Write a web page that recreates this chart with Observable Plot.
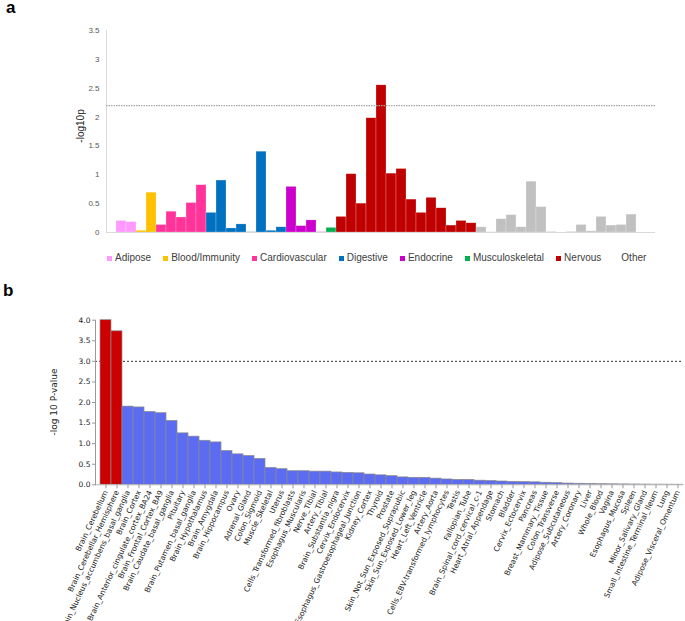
<!DOCTYPE html>
<html><head><meta charset="utf-8">
<script src="https://cdn.jsdelivr.net/npm/d3@7"></script>
<script src="https://cdn.jsdelivr.net/npm/@observablehq/plot@0.6"></script>
<style>
body{margin:0;background:#fff;}
#root{position:relative;width:685px;height:621px;overflow:hidden;font-family:"Liberation Sans",Arial,sans-serif;}
.plot{position:absolute;left:0;}
.panel-label{position:absolute;font-weight:bold;font-size:17px;line-height:14px;color:#000;}
.legend{position:absolute;left:107px;top:251px;display:flex;gap:12px;align-items:center;font-size:10px;line-height:14px;color:#404040;white-space:nowrap;}
.legend span{display:flex;align-items:center;}
.legend i{display:inline-block;width:5px;height:5px;margin-right:3px;}
</style></head>
<body><div id="root"></div>
<script>
// ---------- Panel a data ----------
const aGroups = ["Adipose","Blood/Immunity","Cardiovascular","Digestive","Endocrine","Musculoskeletal","Nervous","Other"];
const aGroupColors = ["#ff99ff","#ffc000","#ff3399","#0070c0","#cc00cc","#00b050","#c00000","#c0c0c0"];
const aGroupSizes = [2,2,5,8,4,1,14,17];
const aValues = [
  0.20,0.18,
  0.03,0.69,
  0.13,0.36,0.26,0.51,0.82,
  0.34,0.90,0.07,0.14,0.005,1.40,0.03,0.09,
  0.79,0.11,0.21,0.005,
  0.08,
  0.27,1.01,0.50,1.98,2.55,1.02,1.10,0.57,0.34,0.60,0.42,0.12,0.20,0.16,
  0.09,0.005,0.23,0.30,0.09,0.88,0.44,0.01,0,0.01,0.13,0.02,0.27,0.12,0.13,0.31,0
];
const aYTicks = [0,0.5,1,1.5,2,2.5,3,3.5];
const aThreshold = 2.2;

// ---------- Panel b data ----------
const bTissues = [
  "Brain_Cerebellum","Brain_Cerebellar_Hemisphere","Brain_Nucleus_accumbens_basal_ganglia","Brain_Cortex",
  "Brain_Anterior_cingulate_cortex_BA24","Brain_Frontal_Cortex_BA9","Brain_Caudate_basal_ganglia","Pituitary",
  "Brain_Putamen_basal_ganglia","Brain_Hypothalamus","Brain_Amygdala","Brain_Hippocampus","Ovary","Adrenal_Gland",
  "Colon_Sigmoid","Muscle_Skeletal","Uterus","Cells_Transformed_fibroblasts","Esophagus_Muscularis","Nerve_Tibial",
  "Artery_Tibial","Brain_Substantia_nigra","Cervix_Endocervix","Esophagus_Gastroesophageal_Junction","Kidney_Cortex",
  "Thyroid","Prostate","Skin_Not_Sun_Exposed_Suprapubic","Skin_Sun_Exposed_Lower_leg","Heart_Left_Ventricle",
  "Artery_Aorta","Cells_EBV-transformed_lymphocytes","Testis","Fallopian_Tube","Brain_Spinal_cord_cervical_c-1",
  "Heart_Atrial_Appendage","Stomach","Bladder","Cervix_Ectocervix","Pancreas","Breast_Mammary_Tissue",
  "Colon_Transverse","Adipose_Subcutaneous","Artery_Coronary","Liver","Whole_Blood","Vagina","Esophagus_Mucosa",
  "Spleen","Minor_Salivary_Gland","Small_Intestine_Terminal_Ileum","Lung","Adipose_Visceral_Omentum"
];
const bValues = [
  4.00,3.73,1.90,1.88,1.77,1.74,1.55,1.25,1.17,1.07,1.03,0.82,0.74,0.70,0.63,0.41,0.38,0.33,0.33,0.32,
  0.32,0.30,0.29,0.28,0.25,0.23,0.21,0.18,0.17,0.17,0.15,0.13,0.12,0.12,0.10,0.09,0.08,0.07,0.065,0.06,
  0.05,0.04,0.03,0.025,0.02,0.015,0.012,0.01,0.008,0.006,0.004,0.003,0.002
];
const bYTicks = [0,0.5,1,1.5,2,2.5,3,3.5,4];
const bThreshold = 3.0;

// ---------- Build tables ----------
const aGroupOfBar = aGroups.flatMap((g, k) => Array(aGroupSizes[k]).fill(g));
const aData = aValues.map((v, i) => ({i, value: v, group: aGroupOfBar[i]}));
const bData = bTissues.map((t, i) => ({tissue: t, value: bValues[i]}));

const root = document.getElementById("root");

// ---------- Panel a ----------
const plotA = Plot.plot({
  width: 685, height: 245,
  marginLeft: 106, marginRight: 30, marginTop: 30, marginBottom: 13,
  x: {type: "band", domain: d3.range(aValues.length), padding: 0, axis: null},
  y: {domain: [0, 3.5], axis: null},
  color: {domain: aGroups, range: aGroupColors},
  style: {fontFamily: "Liberation Sans, Arial, sans-serif", fontSize: "8px", color: "#595959", background: "transparent"},
  marks: [
    Plot.frame({anchor: "left", stroke: "#d9d9d9"}),
    Plot.barY(aData, {x: "i", y: "value", fill: "group", stroke: "#ffffff", strokeOpacity: 0.45, strokeWidth: 0.5}),
    Plot.ruleY([0], {stroke: "#d9d9d9"}),
    Plot.ruleY([aThreshold], {stroke: "#a6a6a6", strokeWidth: 1.3, strokeDasharray: "1.5,1"}),
    Plot.axisY({ticks: aYTicks, tickSize: 0, tickPadding: 7, tickFormat: d => String(d), label: null, fill: "#595959"})
  ]
});
plotA.classList.add("plot");
plotA.style.top = "0px";
d3.select(plotA).append("text")
  .attr("transform", "translate(84,126) rotate(-90)")
  .attr("text-anchor", "middle")
  .attr("font-family", "Liberation Sans, Arial, sans-serif")
  .attr("font-size", "10px")
  .attr("fill", "#262626")
  .text("-log10p");
root.appendChild(plotA);

// legend a
const legend = document.createElement("div");
legend.className = "legend";
aGroups.forEach((g, k) => {
  const s = document.createElement("span");
  const sw = document.createElement("i");
  sw.style.background = g === "Other" ? "transparent" : aGroupColors[k];
  s.appendChild(sw);
  s.appendChild(document.createTextNode(g));
  legend.appendChild(s);
});
root.appendChild(legend);

// ---------- Panel b ----------
const plotB = Plot.plot({
  width: 685, height: 321,
  marginLeft: 95, marginRight: 2, marginTop: 19.7, marginBottom: 136.7,
  x: {domain: bTissues, range: [99, 683], padding: 0},
  y: {domain: [0, 4]},
  style: {fontFamily: "DejaVu Sans, sans-serif", fontSize: "7.5px", color: "#222", background: "transparent"},
  marks: [
    Plot.ruleY([bThreshold], {stroke: "#333", strokeWidth: 1, strokeDasharray: "2,2"}),
    Plot.barY(bData, {x: "tissue", y: "value", fill: d => d.value > bThreshold ? "#cc0000" : "#5b6cf2", stroke: "#8a8a8a", strokeWidth: 0.7}),
    Plot.ruleY([0], {stroke: "#bbbbbb"}),
    Plot.frame({anchor: "left", stroke: "#999"}),
    Plot.axisY({ticks: bYTicks, tickFormat: ".1f", tickSize: 3, tickPadding: 2, label: null, stroke: "#999"}),
    Plot.axisX({tickRotate: -65, tickSize: 4, tickPadding: 2, label: null, stroke: "#999"})
  ]
});
plotB.classList.add("plot");
plotB.style.top = "300px";
d3.select(plotB).append("text")
  .attr("transform", "translate(57,102) rotate(-90)")
  .attr("text-anchor", "middle")
  .attr("font-family", "DejaVu Sans, sans-serif")
  .attr("font-size", "9px")
  .attr("fill", "#222")
  .text("-log 10 P-value");
root.appendChild(plotB);

// panel letters
[["a", 6, 1], ["b", 3, 284]].forEach(([t, x, y]) => {
  const d = document.createElement("div");
  d.className = "panel-label";
  d.style.left = x + "px"; d.style.top = y + "px";
  d.textContent = t;
  root.appendChild(d);
});
</script>
</body></html>
